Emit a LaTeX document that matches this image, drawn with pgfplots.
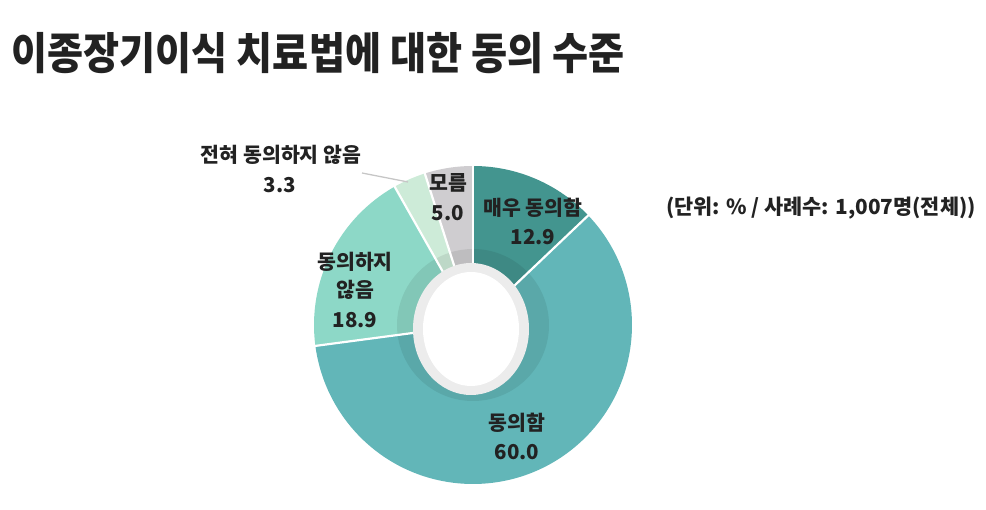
\documentclass[border=0pt]{standalone}
\usepackage{fontspec}
\setmainfont{Noto Sans CJK KR}
\usepackage{pgfplots}
\usepackage{pgfplotstable}
\pgfplotsset{compat=1.18}

\definecolor{cVery}{HTML}{43958F}
\definecolor{cAgree}{HTML}{62B6B8}
\definecolor{cDis}{HTML}{8DD8C7}
\definecolor{cNot}{HTML}{CDEBD8}
\definecolor{cDk}{HTML}{CFCDD0}
\definecolor{txt}{HTML}{222222}

% share of answers, clockwise from 12 o'clock
\pgfplotstableread{
answer value col
veryagree 12.9 cVery
agree 60.0 cAgree
disagree 18.9 cDis
notatall 3.3 cNot
dontknow 5.0 cDk
}\piedata

\begin{document}
\begin{tikzpicture}
\begin{axis}[x=1pt,y=1pt,xmin=0,xmax=986,ymin=0,ymax=510,
  hide axis,clip=false]
\path (rel axis cs:0,0) rectangle (rel axis cs:1,1);

% wedges
\def\astart{90}
\pgfplotsforeachungrouped \i in {0,...,4}{
  \pgfplotstablegetelem{\i}{value}\of\piedata \let\v\pgfplotsretval
  \pgfplotstablegetelem{\i}{col}\of\piedata \let\c\pgfplotsretval
  \pgfmathsetmacro\aend{\astart-3.6*\v}
  \edef\temp{\noexpand\fill[\c] (axis cs:473,185) -- ++(\astart:159pt)
    arc[start angle=\astart,end angle=\aend,radius=159pt] -- cycle;
    \noexpand\fill[\c!92!black] (axis cs:473,185) -- ++(\astart:76pt)
    arc[start angle=\astart,end angle=\aend,radius=76pt] -- cycle;}
  \temp
  \global\let\astart\aend
}
% white separators
\def\astart{90}
\pgfplotsforeachungrouped \i in {0,...,4}{
  \pgfplotstablegetelem{\i}{value}\of\piedata \let\v\pgfplotsretval
  \edef\temp{\noexpand\draw[white,line width=2.2pt] (axis cs:473,185) -- ++(\astart:160pt);}
  \temp
  \pgfmathsetmacro\aend{\astart-3.6*\v}
  \global\let\astart\aend
}
% hole
\fill[gray!15] (axis cs:471,181) ellipse[x radius=58pt,y radius=66pt];
\fill[white] (axis cs:471,181) ellipse[x radius=48pt,y radius=57pt];

% labels
\begin{scope}[every node/.style={text=txt,font=\fontsize{20.5}{22}\selectfont\bfseries}]
\node at (axis cs:533,302) {매우 동의함};
\node at (axis cs:533,273) {12.9};
\node at (axis cs:517,87) {동의함};
\node at (axis cs:517,58) {60.0};
\node at (axis cs:355,248) {동의하지};
\node at (axis cs:355,220) {않음};
\node at (axis cs:355,190) {18.9};
\node at (axis cs:448,327) {모름};
\node at (axis cs:448,297) {5.0};
\node at (axis cs:281,355) {전혀 동의하지 않음};
\node at (axis cs:280,325) {3.3};
\end{scope}
\draw[gray!45,line width=1.3pt] (axis cs:362,337) -- (axis cs:408,328);

\node[anchor=west,text=txt,yscale=1.12,font=\fontsize{39.2}{42}\selectfont\bfseries]
  at (axis cs:8,457) {이종장기이식 치료법에 대한 동의 수준};
\node[text=txt,font=\fontsize{20.8}{22}\selectfont\bfseries]
  at (axis cs:821,302) {(단위: \% / 사례수: 1,007명(전체))};
\end{axis}
\end{tikzpicture}
\end{document}
